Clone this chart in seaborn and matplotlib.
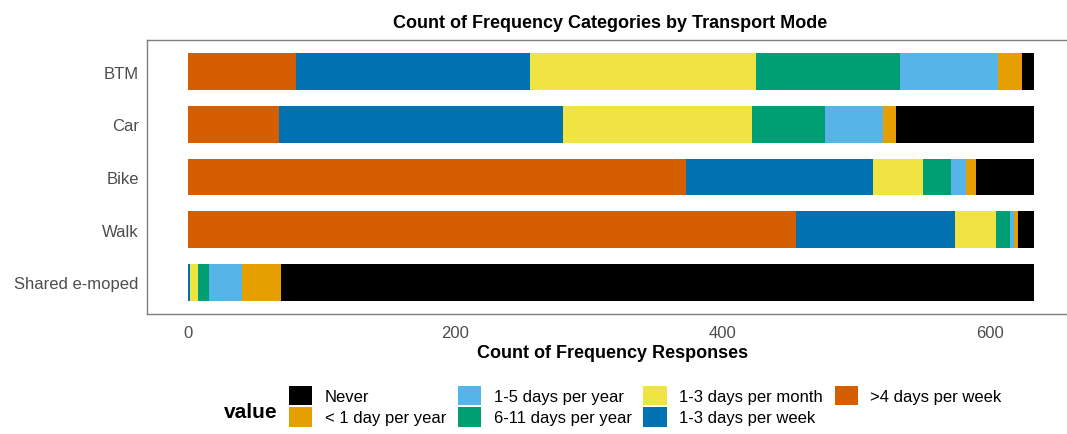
import numpy as np
import pandas as pd
import matplotlib
matplotlib.use('Agg')
import matplotlib.pyplot as plt
from matplotlib.patches import Patch
import seaborn as sns

# Data (counts per transport mode)
modes = ['BTM', 'Car', 'Bike', 'Walk', 'Shared e-moped']
categories = ['>4 days per week', '1-3 days per week', '1-3 days per month',
              '6-11 days per year', '1-5 days per year', '< 1 day per year', 'Never']
gt4_week = [81, 68, 373, 455, 0]
d1_3_week = [175, 213, 140, 119, 2]
d1_3_month = [169, 141, 37, 31, 6]
d6_11_year = [108, 55, 21, 10, 8]
d1_5_year = [73, 43, 11, 3, 25]
lt1_year = [18, 10, 8, 3, 29]
never = [9, 103, 43, 12, 563]

colors = {
    'Never': '#000000',
    '< 1 day per year': '#E69F00',
    '1-5 days per year': '#56B4E9',
    '6-11 days per year': '#009E73',
    '1-3 days per month': '#F0E442',
    '1-3 days per week': '#0072B2',
    '>4 days per week': '#D55E00',
}
legend_order = ['Never', '< 1 day per year', '1-5 days per year', '6-11 days per year',
                '1-3 days per month', '1-3 days per week', '>4 days per week']

df = pd.DataFrame({'mode': modes,
                   categories[0]: gt4_week, categories[1]: d1_3_week,
                   categories[2]: d1_3_month, categories[3]: d6_11_year,
                   categories[4]: d1_5_year, categories[5]: lt1_year,
                   categories[6]: never})
cum = df[categories].cumsum(axis=1)
cum['mode'] = df['mode']

sns.set_style('white')
plt.rcParams['font.family'] = ['Liberation Sans', 'DejaVu Sans']
plt.rcParams['text.color'] = 'black'
plt.rcParams['axes.labelcolor'] = 'black'

fig = plt.figure(figsize=(10.67, 4.35), dpi=100)
ax = fig.add_axes([147 / 1067, 120 / 435, 931 / 1067, 274 / 435])

# stacked bars: draw cumulative totals from the outermost segment inwards
for cat in reversed(categories):
    sns.barplot(data=cum, x=cat, y='mode', order=modes, orient='h', color=colors[cat],
                saturation=1, width=0.7, linewidth=0, ax=ax)

ax.set_xlim(-30.4, 666)
ax.set_ylim(4.6, -0.6)
ax.set_xticks([0, 200, 400, 600])
ax.tick_params(axis='y', length=0, labelsize=12, labelcolor='#4D4D4D', pad=6)
ax.tick_params(axis='x', length=0, labelsize=12, labelcolor='#4D4D4D', pad=8)
ax.set_xlabel('Count of Frequency Responses', fontsize=13, fontweight='bold', labelpad=3)
ax.set_ylabel('')
ax.set_title('Count of Frequency Categories by Transport Mode', fontsize=13,
             fontweight='bold', pad=9, x=(610 - 147) / 931)
for side in ['left', 'top', 'bottom', 'right']:
    ax.spines[side].set_color('#7F7F7F')
    ax.spines[side].set_linewidth(1.0)

handles = [Patch(facecolor=colors[c], edgecolor='none', label=c) for c in legend_order]
fig.legend(handles=handles, ncol=4, loc='upper left',
           bbox_to_anchor=(289 / 1067, 1 - 387 / 435), frameon=False,
           fontsize=12, handlelength=1.4, handleheight=1.4, handletextpad=0.75,
           labelspacing=0.12, columnspacing=0.7, borderpad=0, borderaxespad=0)
fig.text(251 / 1067, 1 - 413 / 435, 'value', fontsize=15, fontweight='bold',
         ha='center', va='center')

fig.savefig('out.png', dpi=100)
